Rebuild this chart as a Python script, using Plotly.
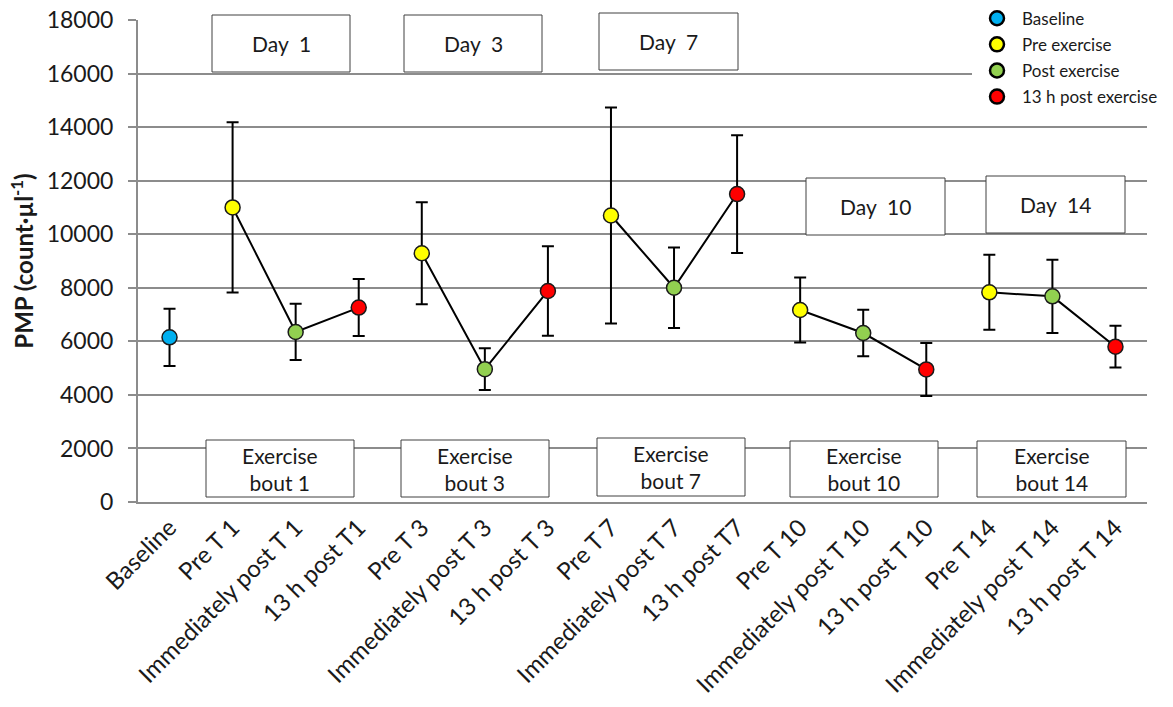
import plotly.graph_objects as go

# Time points along the x axis
categories = [
    "Baseline",
    "Pre T 1", "Immediately post T 1", "13 h post T1",
    "Pre T 3", "Immediately post T 3", "13 h post T 3",
    "Pre T 7", "Immediately post T 7", "13 h post T7",
    "Pre T 10", "Immediately post T 10", "13 h post T 10",
    "Pre T 14", "Immediately post T 14", "13 h post T 14",
]

# PMP mean (count per µl) and error (±)
pmp_mean = [6150,
            11000, 6350, 7260,
            9290, 4960, 7880,
            10700, 8000, 11500,
            7170, 6310, 4950,
            7830, 7680, 5800]
pmp_err = [1070,
           3180, 1050, 1065,
           1905, 780, 1675,
           4030, 1500, 2200,
           1215, 865, 990,
           1400, 1370, 780]

# Sample phase for each time point
phase = ["Baseline",
         "Pre exercise", "Post exercise", "13 h post exercise",
         "Pre exercise", "Post exercise", "13 h post exercise",
         "Pre exercise", "Post exercise", "13 h post exercise",
         "Pre exercise", "Post exercise", "13 h post exercise",
         "Pre exercise", "Post exercise", "13 h post exercise"]

# Groups of consecutive points joined by a line
groups = [[0], [1, 2, 3], [4, 5, 6], [7, 8, 9], [10, 11, 12], [13, 14, 15]]

day_labels = ["Day&nbsp;&nbsp;1", "Day&nbsp;&nbsp;3", "Day&nbsp;&nbsp;7",
              "Day&nbsp;&nbsp;10", "Day&nbsp;&nbsp;14"]
bout_labels = ["Exercise<br>bout 1", "Exercise<br>bout 3", "Exercise<br>bout 7",
               "Exercise<br>bout 10", "Exercise<br>bout 14"]

phase_colors = {
    "Baseline": "#00B0F0",
    "Pre exercise": "#FFFF00",
    "Post exercise": "#92D050",
    "13 h post exercise": "#FF0000",
}

FONT = "Lato"
TEXT = "#1a1a1a"

fig = go.Figure()

for g in groups:
    fig.add_trace(go.Scatter(
        x=[categories[i] for i in g],
        y=[pmp_mean[i] for i in g],
        error_y=dict(type="data", array=[pmp_err[i] for i in g],
                     color="black", thickness=2, width=6),
        mode="lines+markers",
        line=dict(color="black", width=2),
        marker=dict(size=15, color=[phase_colors[phase[i]] for i in g],
                    line=dict(color="#1a1a1a", width=1.5)),
        showlegend=False,
        cliponaxis=False,
    ))

# Legend entries, one per phase
for name, col in phase_colors.items():
    fig.add_trace(go.Scatter(
        x=[None], y=[None], mode="markers", name=name,
        legendgroup=name,
        marker=dict(size=14, color=col, line=dict(color="black", width=2.5)),
    ))

# Plot area in pixels: x 138..1147, y 20..502
L, R, T, B = 138, 1147, 20, 502


def px_x(p):
    return (p - L) / (R - L)


def px_y(p):
    return (B - p) / (B - T)


day_boxes = [(212, 350, 15, 72), (404, 542, 15, 72), (599, 738, 13, 70),
             (806, 945, 178, 235), (986, 1125, 176, 233)]
bout_boxes = [(206, 354, 440, 497), (401, 549, 440, 497), (597, 745, 438, 496),
              (790, 938, 441, 497), (977, 1126, 441, 497)]

shapes = []
annotations = []
for labels, boxes in ((day_labels, day_boxes), (bout_labels, bout_boxes)):
    for text, (x0, x1, y0, y1) in zip(labels, boxes):
        shapes.append(dict(type="rect", xref="paper", yref="paper",
                           x0=px_x(x0), x1=px_x(x1), y0=px_y(y1), y1=px_y(y0),
                           fillcolor="white", line=dict(color="#404040", width=1),
                           layer="above"))
        annotations.append(dict(xref="paper", yref="paper",
                                x=px_x((x0 + x1) / 2), y=px_y((y0 + y1) / 2),
                                text=text, showarrow=False,
                                font=dict(family=FONT, size=21, color=TEXT),
                                xanchor="center", yanchor="middle"))

fig.update_layout(
    width=1173, height=707,
    margin=dict(l=L, r=1173 - R, t=T, b=707 - B, autoexpand=False),
    paper_bgcolor="white", plot_bgcolor="white",
    font=dict(family=FONT, color=TEXT),
    shapes=shapes,
    annotations=annotations,
    legend=dict(x=px_x(972), y=1.04, xanchor="left", yanchor="top",
                bgcolor="white", borderwidth=0, tracegroupgap=1,
                font=dict(family=FONT, size=17, color=TEXT),
                itemwidth=40),
    xaxis=dict(
        type="category", categoryorder="array", categoryarray=categories,
        range=[-0.5, 15.5], showgrid=False, zeroline=False,
        showline=True, linecolor="#8c8c8c", linewidth=2,
        ticks="", tickangle=-45,
        tickfont=dict(family=FONT, size=24, color=TEXT),
    ),
    yaxis=dict(
        range=[0, 18000], dtick=2000, tickformat="d",
        showgrid=True, gridcolor="#8c8c8c", gridwidth=1.5,
        zeroline=False, showline=True, linecolor="#8c8c8c", linewidth=2,
        ticks="outside", ticklen=8, tickcolor="#8c8c8c", tickwidth=2,
        ticklabelstandoff=10,
        tickfont=dict(family=FONT, size=23, color=TEXT),
        title=dict(text="<b>PMP (count·µl<sup>-1</sup>)</b>",
                   font=dict(family=FONT, size=24, color=TEXT), standoff=6),
    ),
)

fig.write_html("out.html")
